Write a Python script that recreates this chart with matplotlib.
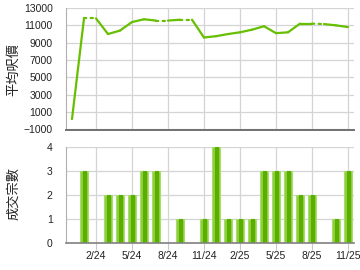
import matplotlib.pyplot as plt
import numpy as np

plt.rcParams['font.family'] = ['Liberation Sans', 'DejaVu Sans']

# months from Dec 2023 to Nov 2025, index 0 = Jan 2024
months = list(range(-1, 23))
avg_price = [200, 11800, 11800, 10000, 10400, 11380, 11700, 11550, 11550, 11650, 11650, 9600,
             9750, 10000, 10200, 10500, 10900, 10100, 10200, 11200, 11200, 11150, 11000, 10800]
# months with no transactions (line drawn dotted into them)
no_deal = [1, 7, 9, 20]
deals = [0, 3, 0, 2, 2, 2, 3, 3, 0, 1, 0, 1, 4, 1, 1, 1, 3, 3, 3, 2, 2, 0, 1, 3]
tick_pos = [1, 4, 7, 10, 13, 16, 19, 22]
tick_labels = ['2/24', '5/24', '8/24', '11/24', '2/25', '5/25', '8/25', '11/25']

green = '#66bf00'
grid_c = '#d4d4d4'

fig = plt.figure(figsize=(3.6, 2.7), dpi=100)
ax1 = fig.add_axes([66/360, (270-129.5)/270, 288/360, 121.5/270])
ax2 = fig.add_axes([66/360, (270-243)/270, 288/360, 96/270])

# price line
for i in range(len(months) - 1):
    ls = (0, (1, 2)) if months[i+1] in no_deal else '-'
    ax1.plot(months[i:i+2], avg_price[i:i+2], color=green, lw=1.6, ls=ls,
             solid_capstyle='round', dash_capstyle='round')

ax1.set_xlim(-1.5, 22.5)
ax1.set_ylim(-1000, 13000)
ax1.set_yticks(np.arange(-1000, 13001, 2000))
ax1.set_xticks(tick_pos)
ax1.set_xticklabels([])
ax1.tick_params(axis='x', length=0)
ax1.tick_params(axis='y', length=0, labelsize=7.5, pad=9.5, colors='#222222')
ax1.grid(True, color=grid_c, lw=0.9)
ax1.set_axisbelow(True)
for s in ['top', 'right']:
    ax1.spines[s].set_visible(False)
ax1.spines['left'].set_color('#b0b0b0')
ax1.spines['bottom'].set_color('#707070')
ax1.spines['bottom'].set_linewidth(1.4)

# deals bars
x = np.array(months)
d = np.array(deals)
ax2.bar(x, d, width=0.72, color='#8ccf3a', edgecolor='#a8dc70', lw=0.8)
ax2.bar(x + 0.08, d, width=0.3, color='#5aae00', lw=0)
ax2.set_xlim(-1.5, 22.5)
ax2.set_ylim(0, 4)
ax2.set_yticks([0, 1, 2, 3, 4])
ax2.set_xticks(tick_pos)
ax2.set_xticklabels(tick_labels)
ax2.tick_params(axis='x', length=5, labelsize=7.5, pad=1, colors='#222222')
ax2.tick_params(axis='x', color='#c8c8c8')
ax2.tick_params(axis='y', length=0, labelsize=7.5, pad=9.5, colors='#222222')
ax2.grid(True, color=grid_c, lw=0.9)
ax2.set_axisbelow(True)
for s in ['top', 'right']:
    ax2.spines[s].set_visible(False)
ax2.spines['left'].set_color('#b0b0b0')
ax2.spines['bottom'].set_color('#808080')
ax2.spines['bottom'].set_linewidth(1.2)

fig.text(14/360, 1 - 70/270, '平均呎價', rotation=90, ha='center', va='center',
         fontsize=9.5, family=['Noto Sans CJK TC', 'DejaVu Sans'], color='#222222')
fig.text(14/360, 1 - 194/270, '成交宗數', rotation=90, ha='center', va='center',
         fontsize=9.5, family=['Noto Sans CJK TC', 'DejaVu Sans'], color='#222222')

fig.savefig('out.png', dpi=100)
